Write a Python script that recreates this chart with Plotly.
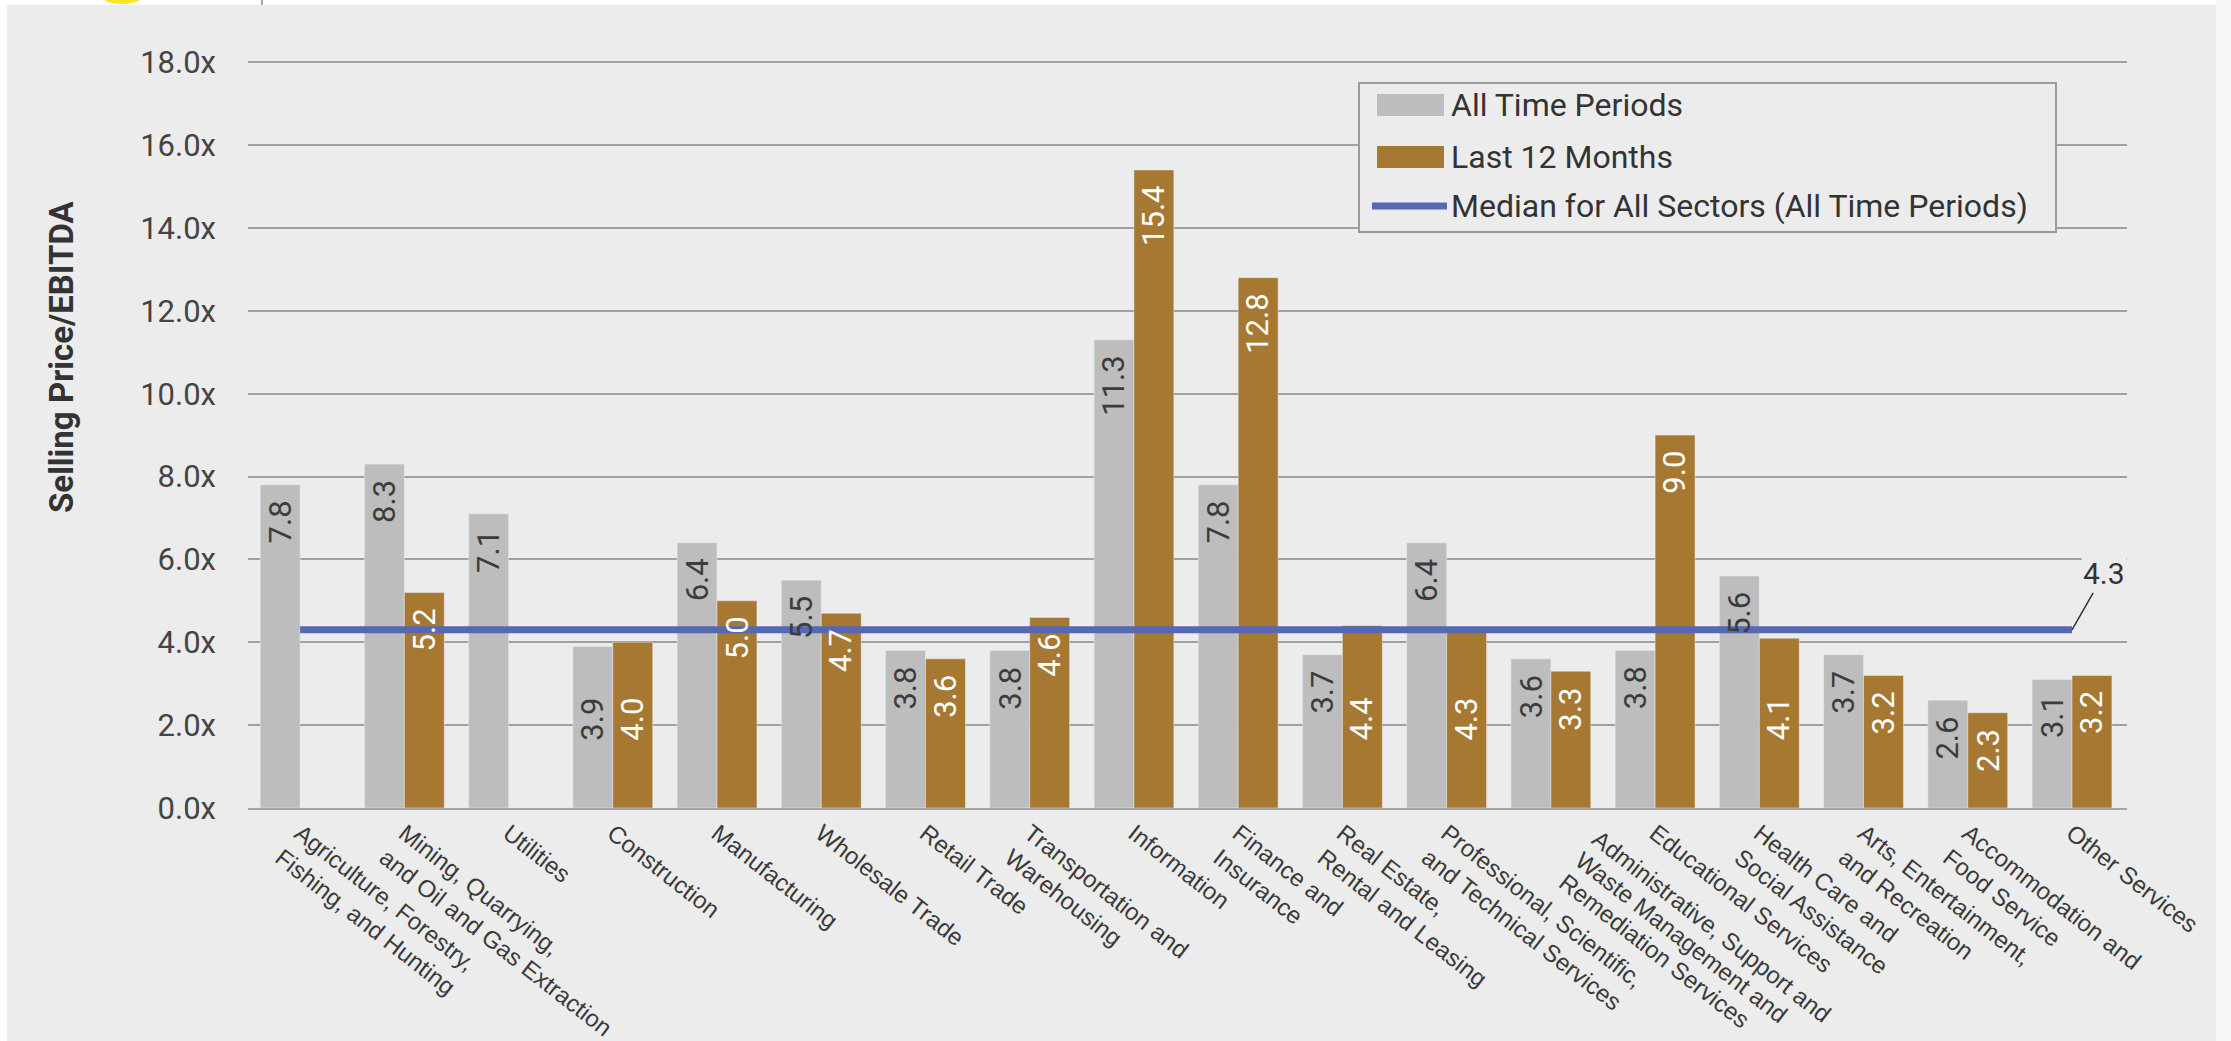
import math
import plotly.graph_objects as go

categories = [
    "Agriculture, Forestry,<br>Fishing, and Hunting",
    "Mining, Quarrying,<br>and Oil and Gas Extraction",
    "Utilities",
    "Construction",
    "Manufacturing",
    "Wholesale Trade",
    "Retail Trade",
    "Transportation and<br>Warehousing",
    "Information",
    "Finance and<br>Insurance",
    "Real Estate,<br>Rental and Leasing",
    "Professional, Scientific,<br>and Technical Services",
    "Administrative, Support and<br>Waste Management and<br>Remediation Services",
    "Educational Services",
    "Health Care and<br>Social Assistance",
    "Arts, Entertainment,<br>and Recreation",
    "Accommodation and<br>Food Service",
    "Other Services",
]
all_time = [7.8, 8.3, 7.1, 3.9, 6.4, 5.5, 3.8, 3.8, 11.3, 7.8, 3.7, 6.4, 3.6, 3.8, 5.6, 3.7, 2.6, 3.1]
last_12 = [None, 5.2, None, 4.0, 5.0, 4.7, 3.6, 4.6, 15.4, 12.8, 4.4, 4.3, 3.3, 9.0, 4.1, 3.2, 2.3, 3.2]
median_all = 4.3
y_ticks = [0, 2, 4, 6, 8, 10, 12, 14, 16, 18]
series_names = ["All Time Periods", "Last 12 Months", "Median for All Sectors (All Time Periods)"]

GRAY = "#BDBDBD"
GOLD = "#A67832"
BLUE = "#5468B4"
BG = "#ECECEC"
TXT = "#3C3C3C"
LABEL_SIZE = 31
BAR_OFFSET = 20          # px from category centre to each bar centre
TICK_ANGLE = 38
TICK_FONT = dict(family="Liberation Sans", size=24, color="#3A3A3A")
LINE_STEP = 27           # px between lines of a rotated category label

# plot-area geometry in px (used for paper <-> px conversion of decorations)
W, H = 2231, 1041
L, R, T, B = 248, 104, 61, 233
PW, PH = W - L - R, H - T - B


def px(xp):
    return (xp - L) / PW


def py(yp):
    return (H - B - yp) / PH


def near_median(v):
    # labels whose top would sit on the median line are moved lower in the bar
    return v is not None and -0.45 <= v - median_all <= 0.15


fig = go.Figure()
fig.add_trace(go.Bar(x=categories, y=all_time, name=series_names[0],
                     marker_color=GRAY, showlegend=False))
fig.add_trace(go.Bar(x=categories, y=last_12, name=series_names[1],
                     marker_color=GOLD, showlegend=False))
fig.add_trace(go.Scatter(
    x=categories, y=[median_all] * len(categories), mode="lines",
    name=series_names[2], line=dict(color=BLUE, width=7), showlegend=False,
))

# value labels inside the bars
for series, shift, color in ((all_time, -BAR_OFFSET, TXT), (last_12, BAR_OFFSET, "white")):
    for cat, v in zip(categories, series):
        if v is None:
            continue
        if near_median(v):
            fig.add_annotation(
                x=cat, y=median_all / 2, xshift=shift, text=f"{v:.1f}",
                textangle=-90, showarrow=False, xanchor="center", yanchor="middle",
                font=dict(family="Roboto", size=LABEL_SIZE, color=color),
            )
        else:
            fig.add_annotation(
                x=cat, y=v, xshift=shift, yshift=-14, text=f"{v:.1f}",
                textangle=-90, showarrow=False, xanchor="center", yanchor="top",
                font=dict(family="Roboto", size=LABEL_SIZE, color=color),
            )

# three-line category label: drawn line by line so it nests between its neighbours
sin_a, cos_a = math.sin(math.radians(TICK_ANGLE)), math.cos(math.radians(TICK_ANGLE))
tick_text = []
for cat in categories:
    lines = cat.split("<br>")
    if len(lines) >= 3:
        tick_text.append("")
        for k, line in enumerate(lines):
            fig.add_annotation(
                x=cat, y=0, xanchor="left", yanchor="top",
                xshift=35 - k * LINE_STEP * sin_a, yshift=-16 - k * LINE_STEP * cos_a,
                text=line, textangle=TICK_ANGLE, showarrow=False,
                font=TICK_FONT, borderpad=0,
            )
    else:
        tick_text.append(cat)

# median value callout
fig.add_annotation(
    x=categories[-1], y=median_all, text=f"{median_all:.1f}",
    showarrow=True, arrowhead=0, arrowwidth=1.5, arrowcolor="#333333",
    ax=32, ay=-56, font=dict(family="Roboto", size=30, color="#333333"),
    bgcolor=BG,
)
# y-axis title
fig.add_annotation(
    xref="paper", yref="paper", x=px(61), y=py(357),
    text="<b>Selling Price/EBITDA</b>", textangle=-90, showarrow=False,
    xanchor="center", yanchor="middle",
    font=dict(family="Roboto", size=33, color="#333333"),
)

# legend (drawn by hand so the swatches are wide rectangles)
shapes = [
    dict(type="rect", xref="paper", yref="paper", x0=px(1359), x1=px(2056),
         y0=py(232), y1=py(83), fillcolor=BG, line=dict(color="#9A9A9A", width=2)),
]
legend_rows = [105, 157, 206]
for name, color, row in zip(series_names, [GRAY, GOLD, BLUE], legend_rows):
    if color == BLUE:
        shapes.append(dict(type="line", xref="paper", yref="paper",
                           x0=px(1372), x1=px(1447), y0=py(row), y1=py(row),
                           line=dict(color=color, width=7)))
    else:
        shapes.append(dict(type="rect", xref="paper", yref="paper",
                           x0=px(1377), x1=px(1444), y0=py(row + 11), y1=py(row - 11),
                           fillcolor=color, line_width=0))
    fig.add_annotation(xref="paper", yref="paper", x=px(1449), y=py(row),
                       text=name, showarrow=False, xanchor="left", yanchor="middle",
                       font=dict(family="Roboto", size=32, color="#333333"))

# page frame details
shapes += [
    dict(type="rect", xref="paper", yref="paper", x0=-0.2, x1=1.1,
         y0=py(5), y1=1.2, fillcolor="white", line_width=0, layer="below"),
    dict(type="rect", xref="paper", yref="paper", x0=-0.2, x1=px(7),
         y0=-0.5, y1=1.2, fillcolor="white", line_width=0, layer="below"),
    dict(type="rect", xref="paper", yref="paper", x0=px(2216), x1=1.2,
         y0=-0.5, y1=1.2, fillcolor="#F6F6F6", line_width=0, layer="below"),
    dict(type="circle", xref="paper", yref="paper", x0=px(96), x1=px(148),
         y0=py(4), y1=py(-24), fillcolor="#F5E62A", line_width=0),
    dict(type="line", xref="paper", yref="paper", x0=px(262), x1=px(262),
         y0=py(5), y1=py(0), line=dict(color="#555555", width=1)),
]

fig.update_layout(
    width=W, height=H,
    margin=dict(l=L, r=R, t=T, b=B),
    paper_bgcolor=BG, plot_bgcolor=BG,
    barmode="group", bargap=0.234, bargroupgap=0,
    showlegend=False,
    xaxis=dict(
        tickangle=TICK_ANGLE, tickfont=TICK_FONT,
        tickvals=categories, ticktext=tick_text,
        showline=True, linecolor="#A5A5A5", linewidth=2, showgrid=False,
        automargin=False,
    ),
    yaxis=dict(
        range=[0, 18.03], tickvals=y_ticks, ticktext=[f"{v:.1f}x" for v in y_ticks],
        tickfont=dict(family="Roboto", size=31, color="#444444"),
        gridcolor="#A0A0A0", gridwidth=2, zeroline=False, ticklabelstandoff=31,
        automargin=False,
    ),
    shapes=shapes,
)

fig.write_html("out.html")
